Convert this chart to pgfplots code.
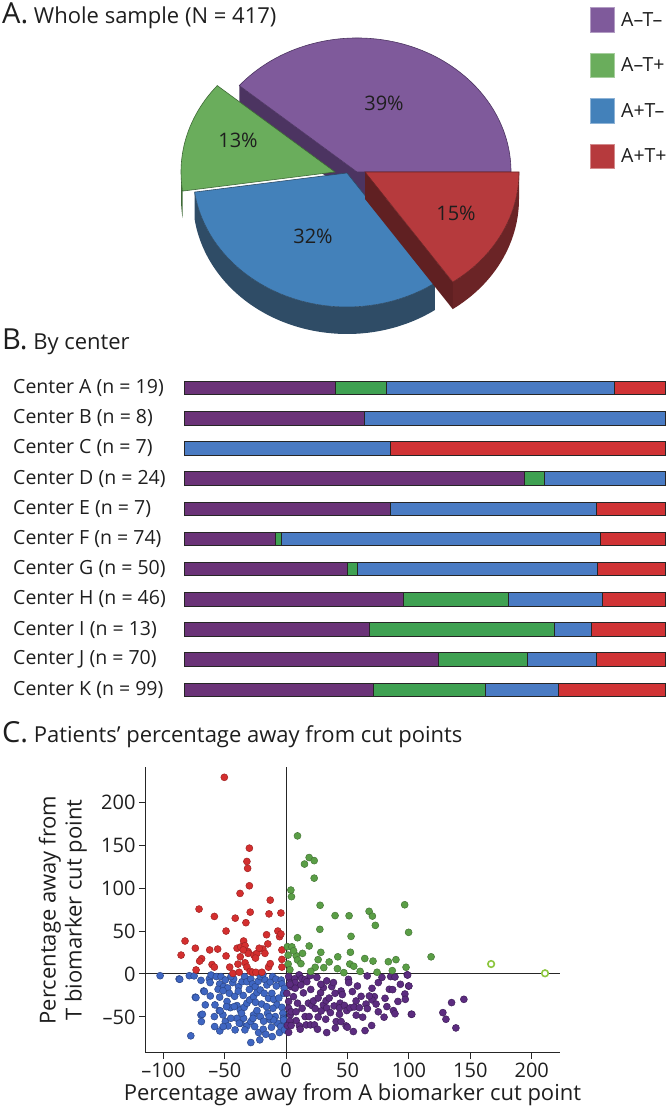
\documentclass[border=0pt]{standalone}
\usepackage{pgfplots}
\pgfplotsset{compat=1.18}
\usepackage{pgfplotstable}
\usepackage{fontspec}
\setmainfont{Open Sans}

\definecolor{pieP}{HTML}{7F5A9B}
\definecolor{piePd}{HTML}{4C3461}
\definecolor{pieG}{HTML}{6AAD5C}
\definecolor{pieGd}{HTML}{3F6A37}
\definecolor{pieB}{HTML}{4381BA}
\definecolor{pieBd}{HTML}{2F4C66}
\definecolor{pieR}{HTML}{B63A3D}
\definecolor{pieRd}{HTML}{6B2426}
\definecolor{barP}{HTML}{6B3378}
\definecolor{barG}{HTML}{3FA152}
\definecolor{barB}{HTML}{4A7BC3}
\definecolor{barR}{HTML}{D03335}
\definecolor{ptR}{HTML}{D42F2F}
\definecolor{ptG}{HTML}{5A9E46}
\definecolor{ptB}{HTML}{3F66C2}
\definecolor{ptP}{HTML}{5C2C80}
\definecolor{ptL}{HTML}{8DC63F}
\definecolor{txt}{HTML}{1E1E1E}

% counts per group (whole sample)
\def\nP{162}\def\nG{56}\def\nB{135}\def\nR{64}

% percent of each center's patients in A-T-, A-T+, A+T-, A+T+ (row 10 = Center A ... row 0 = Center K)
\pgfplotstableread{
row pp pg pb pr
10 31.579 10.526 47.368 10.526
9 37.5 0 62.5 0
8 0 0 42.857 57.143
7 70.833 4.167 25 0
6 42.857 0 42.857 14.286
5 18.919 1.351 66.216 13.514
4 34 2 50 14
3 45.652 21.739 19.565 13.043
2 38.462 38.462 7.692 15.385
1 52.857 18.571 14.286 14.286
0 39.394 23.232 15.152 22.222
}\bartab

\pgfplotstableread{
x y
-50.4 229
-30 146.5
-32 131
-31.4 123
-30 102.7
-37.6 93.8
-13 86
-71 75.6
-29.3 72
-58.5 67
-14 70
-4.3 71
-41.5 65
-32.8 59.7
-49 50
-6.8 50
-16 45.7
-5.4 43.4
-4.3 46.5
-82.4 38.4
-34.7 38.4
-74 30
-62.3 28
-55.8 29
-40 30
-37 31.4
-33.5 33
-31 26
-19 29
-15 35
-3.5 28
-85.6 22
-68.9 17.8
-70.5 15
-49 21
-37.4 20
-31 24
-26.3 22
-23.8 24
-25 18.5
-3.5 17
-60.4 11
-58.5 8
-39.3 11.5
-33.5 13
-32 8
-14.4 8
-73.4 4.7
-43.4 0.7
-38.3 2
-29.3 3
-27.4 2
-24.7 2
-19.8 2
-3.5 8
-13 12
-17.3 24
-22 30
-35 28
-46 8
}\redtab

\pgfplotstableread{
x y
9.2 160.8
18.7 135.6
22.8 132
14.9 128
22.8 111.6
3.8 97.7
4.3 90
27.6 80
96.5 80.6
39.8 68
51.2 67.8
67.5 73
70.2 67.4
72.6 56.6
27.4 52
99.7 48.5
52.8 43.8
9.2 42.2
1 31.8
4.6 31.6
18.7 32.6
13.3 24
28.2 25.2
52.3 25.3
1.6 22
8.1 21.3
9.2 16.3
26 16.7
42 20
1.6 11.6
23.6 7.8
30.6 7.4
41.7 6.2
51.8 11.6
70.7 15
83.2 14.3
89.4 16.7
118 20
97.6 7.8
46.9 1.6
60.2 3
74 2
86.4 3.9
3 5
12 12
6 27
35 14
20 3
55 9
64 18
}\greentab

\pgfplotstableread{
x y
166.9 11.6
210.8 0.8
}\lighttab

\pgfplotstableread{
x y
10.6 -1
19.5 -2
2.7 -5
6.8 -5.6
12.7 -5.4
15.4 -6.6
7.3 -10
16.8 -9
4 -14.7
11.9 -12.8
7.3 -16.6
30.3 -15.9
37.1 -14.7
44.7 -19.8
50.7 -6.2
50.9 -10
66 -2.3
85.1 -3
88.6 -3.5
98.6 -1
99.7 -14
53.9 -20.5
28.2 -12
38.5 -10
39.8 -22.5
45.7 -24
69.9 -16.7
71.8 -26.4
80.5 -28.3
84 -17.8
86.7 -18.2
96.7 -23.3
97 -29.5
0.5 -22.5
5.9 -26.4
9.2 -34
18.1 -34
20.9 -36.6
22.2 -31.4
23.6 -40.3
28.5 -43
30.3 -36
33 -39.5
32.5 -31
39 -37.2
43.9 -34
43.4 -39.5
47.4 -36.6
49.3 -42.6
52 -39.5
55.3 -38.4
65 -35
66.1 -40.3
62.3 -50.3
69.9 -30.2
73.2 -35
79.7 -50.3
87.3 -42.6
88.6 -46.3
101.9 -46.9
127.6 -45
130.1 -52.7
134.7 -33.3
144.7 -29.5
138.2 -62.8
3.3 -47.7
8.1 -54.3
10.8 -60.5
15.4 -49.6
18.7 -49.6
16.3 -59.3
19.8 -59.3
23 -59.3
25.5 -64.3
11.4 -64.3
32.2 -52.7
33 -68.2
40.7 -55.4
44.7 -55.4
43.4 -46.9
48.8 -60.5
54.7 -67
49.8 -62
69.6 -60
64.2 -65.9
59.6 -39.2
56.9 -31.4
67.7 -25.6
2 -3
3 -12
2 -32
2 -40
4 -44
3 -55
1 -60
4 -60
2 -68
98.9 -1.2
99.9 -14
102.3 -46.9
25 -4
28 -22
33 -8
35 -28
58 -14
61 -26
75 -10
78 -4
91 -32
93 -12
14 -22
20 -18
26 -28
8 -44
13 -40
26 -50
36 -45
57 -48
75 -44
82 -38
40 -63
}\purpletab

\pgfplotstableread{
x y
-102.7 -2
-87.2 -5.8
-78.9 -2
-75 -2.2
-69.4 -7.4
-62.6 -5.8
-61.2 -1.2
-56.9 -3
-53.1 -3
-49.6 -7
-54.2 -11.6
-51 -14.7
-47.7 -16.3
-55.5 -17.8
-51.5 -19.5
-46.3 -22.5
-43.6 -10
-42.8 -5.8
-38.8 -14.7
-36 -9
-33.9 -3
-32 -9
-28.8 -5.8
-27.4 -11.6
-25.2 -14.7
-22.8 -8.5
-21.1 -3
-19 -0.5
-17.1 -7
-15.7 -12.8
-13 -9.3
-11.1 -3
-8.4 -6
-4.1 -7
-3.5 -11.6
-1.6 -16.7
-2.2 -22.5
-67.2 -19.8
-74 -27
-61.8 -25.6
-54.2 -27
-48.2 -32
-45.5 -39.2
-40.1 -36.8
-37.4 -41.9
-34.2 -38.8
-32 -34.1
-29.8 -30.2
-26.6 -26.4
-23.8 -21.7
-21.1 -18.6
-17.9 -22.5
-14.4 -28.3
-11.7 -22.5
-10.3 -29.5
-7.6 -36
-3.5 -38.8
-2.7 -45.7
-2.4 -51.6
-2.2 -57.4
-69.4 -47.7
-69.1 -55.4
-58.5 -49.6
-54.5 -42.6
-51.5 -47.7
-49.6 -55.4
-47.4 -60.5
-40.1 -51.6
-37 -57.4
-34.7 -51.6
-32 -60.5
-28.8 -55.4
-26.6 -47.7
-23.8 -42.6
-21.1 -49.6
-18.4 -55
-15.2 -45.7
-13 -53.5
-10.8 -40
-8.9 -49.6
-7 -57.4
-77.7 -72
-68.3 -46.9
-58.3 -61.2
-54.1 -66.3
-51.3 -61.2
-53.8 -43
-41.6 -65.1
-45.1 -51.6
-33.6 -65.1
-28.8 -79.8
-25.7 -61.2
-21.5 -76.7
-22.5 -68.2
-18.7 -64.3
-16.6 -70.2
-11.4 -72.9
-5.5 -68.2
-4.5 -61.2
-2.1 -53.5
-1.4 -65.1
-10.4 -53.5
-13.9 -49.6
-27 -51.6
-36.4 -45.7
-38.2 -57.4
-42.3 -38
-48.6 -38
-65.9 -36
-66.6 -20.5
-73.5 -27.5
-86.7 -6.2
-30 -18
-35 -25
-42 -26
-20 -35
-8 -14
-6 -28
-16 -38
-25 -33
-39 -20
-58 -36
-62 -10
-45 -3
-12 -62
}\bluetab

\begin{document}
\begin{tikzpicture}
\useasboundingbox (0pt,0pt) rectangle (668pt,1119pt);

% ---- bars by center ----
\begin{axis}[at={(184pt,414pt)}, anchor=south west, scale only axis, width=481pt, height=332pt,
  xbar stacked, bar width=13.5pt, xmin=0, xmax=100, ymin=-0.5, ymax=10.5,
  hide x axis, axis y line*=left, y axis line style={draw=none}, ytick style={draw=none},
  ytick={0,1,2,3,4,5,6,7,8,9,10},
  yticklabels={{Center K (n = 99)},{Center J (n = 70)},{Center I (n = 13)},{Center H (n = 46)},{Center G (n = 50)},{Center F (n = 74)},{Center E (n = 7)},{Center D (n = 24)},{Center C (n = 7)},{Center B (n = 8)},{Center A (n = 19)}},
  yticklabel style={font=\fontsize{19.5}{22}\selectfont, text=txt, anchor=west, inner sep=0pt, xshift=-171pt},
  clip=false]
\addplot[fill=barP, draw=black!85, line width=1pt] table[x=pp, y=row] {\bartab};
\addplot[fill=barG, draw=black!85, line width=1pt] table[x=pg, y=row] {\bartab};
\addplot[fill=barB, draw=black!85, line width=1pt] table[x=pb, y=row] {\bartab};
\addplot[fill=barR, draw=black!85, line width=1pt] table[x=pr, y=row] {\bartab};
\end{axis}

% ---- pie geometry from counts ----
\pgfmathsetmacro\pieTot{\nP+\nG+\nB+\nR}
\pgfmathsetmacro\pieAP{\nP/\pieTot*360}
\pgfmathsetmacro\pieAG{\pieAP+\nG/\pieTot*360}
\pgfmathsetmacro\pieAB{\pieAG+\nB/\pieTot*360}
\pgfmathsetmacro\pPX{357+154*cos(\pieAP)}\pgfmathsetmacro\pPY{947+134*sin(\pieAP)}
\pgfmathsetmacro\pGX{335+154*cos(\pieAP)}\pgfmathsetmacro\pGY{947+134*sin(\pieAP)}
\pgfmathsetmacro\pBX{347+154*cos(\pieAG)}\pgfmathsetmacro\pBY{946+134*sin(\pieAG)}
\pgfmathsetmacro\pRX{365+154*cos(\pieAB)}\pgfmathsetmacro\pRY{947+134*sin(\pieAB)}

\begin{axis}[at={(0pt,0pt)}, anchor=south west, x=1pt, y=1pt, xmin=0, xmax=668, ymin=0, ymax=1119,
  hide axis, clip=false, disabledatascaling]
% purple
\fill[piePd] (axis cs:357,947) -- (axis cs:511,947) -- (axis cs:511,920) -- (axis cs:357,920) -- cycle;
\fill[piePd] (axis cs:357,947) -- (axis cs:\pPX,\pPY) -- ++(0pt,-27pt) -- (axis cs:357,920) -- cycle;
\filldraw[fill=pieP, draw=piePd, line width=0.6pt] (axis cs:357,947) -- (axis cs:511,947)
  arc[start angle=0, end angle=\pieAP, x radius=154pt, y radius=134pt] -- cycle;
% green
\fill[pieGd] (axis cs:181,947) arc[start angle=180, end angle=\pieAG, x radius=154pt, y radius=134pt]
  -- ++(0pt,-27pt) arc[start angle=\pieAG, end angle=180, x radius=154pt, y radius=134pt] -- cycle;
\filldraw[fill=pieG, draw=pieGd, line width=0.6pt] (axis cs:335,947) -- (axis cs:\pGX,\pGY)
  arc[start angle=\pieAP, end angle=\pieAG, x radius=154pt, y radius=134pt] -- cycle;
% blue
\fill[pieBd] (axis cs:\pBX,\pBY) arc[start angle=\pieAG, end angle=\pieAB, x radius=154pt, y radius=134pt]
  -- ++(0pt,-27pt) arc[start angle=\pieAB, end angle=\pieAG, x radius=154pt, y radius=134pt] -- cycle;
\filldraw[fill=pieB, draw=pieBd, line width=0.6pt] (axis cs:347,946) -- (axis cs:\pBX,\pBY)
  arc[start angle=\pieAG, end angle=\pieAB, x radius=154pt, y radius=134pt] -- cycle;
% red
\fill[pieRd!90!black] (axis cs:365,947) -- (axis cs:\pRX,\pRY) -- ++(0pt,-27pt) -- (axis cs:365,920) -- cycle;
\fill[pieRd] (axis cs:\pRX,\pRY) arc[start angle=\pieAB, end angle=360, x radius=154pt, y radius=134pt]
  -- ++(0pt,-27pt) arc[start angle=360, end angle=\pieAB, x radius=154pt, y radius=134pt] -- cycle;
\filldraw[fill=pieR, draw=pieRd, line width=0.6pt] (axis cs:365,947) -- (axis cs:\pRX,\pRY)
  arc[start angle=\pieAB, end angle=360, x radius=154pt, y radius=134pt] -- cycle;
\end{axis}

% pie labels
\begin{scope}[every node/.style={font=\fontsize{20}{22}\selectfont, text=txt, inner sep=0pt}]
\node at (384pt,1016pt) {39\%};
\node at (238pt,979pt) {13\%};
\node at (313pt,883pt) {32\%};
\node at (456pt,906pt) {15\%};
\end{scope}

% titles
\node[anchor=base west, inner sep=0pt, text=txt] at (2pt,1095pt)
  {{\fontsize{29}{30}\selectfont A.}\fontsize{22}{24}\selectfont{} Whole sample (N = 417)};
\node[anchor=base west, inner sep=0pt, text=txt] at (2pt,769pt)
  {{\fontsize{29}{30}\selectfont B.}\fontsize{22}{24}\selectfont{} By center};
\node[anchor=base west, inner sep=0pt, text=txt] at (2pt,376pt)
  {{\fontsize{29}{30}\selectfont C.}\fontsize{22}{24}\selectfont{} Patients’ percentage away from cut points};

% legend
\begin{scope}[every node/.style={font=\fontsize{19.5}{22}\selectfont, text=txt, inner sep=0pt, anchor=west}]
\filldraw[fill=pieP, draw=pieP!60!white, line width=0.8pt] (590pt,1087pt) rectangle (614pt,1112pt);
\node at (621pt,1099.5pt) {A–T–};
\filldraw[fill=pieG, draw=pieG!60!white, line width=0.8pt] (590pt,1042pt) rectangle (614pt,1066pt);
\node at (621pt,1054pt) {A–T+};
\filldraw[fill=pieB, draw=pieB!60!white, line width=0.8pt] (590pt,996pt) rectangle (614pt,1021pt);
\node at (621pt,1008.5pt) {A+T–};
\filldraw[fill=pieR, draw=pieR!60!white, line width=0.8pt] (590pt,951pt) rectangle (614pt,975pt);
\node at (621pt,963pt) {A+T+};
\end{scope}

% ---- scatter ----
\begin{axis}[at={(145pt,66pt)}, anchor=south west, scale only axis, width=415pt, height=286pt,
  xmin=-115, xmax=223, ymin=-92, ymax=241,
  axis x line=bottom, axis y line=left, axis line style={-, line width=1pt, black!85},
  xtick={-100,-50,0,50,100,150,200}, xticklabels={–100,–50,0,50,100,150,200},
  ytick={-50,0,50,100,150,200}, yticklabels={–50,0,50,100,150,200},
  tick align=outside, major tick length=6pt, tick style={black!85, line width=1pt},
  ticklabel style={font=\fontsize{20}{22}\selectfont, text=txt},
  xlabel={Percentage away from A biomarker cut point},
  ylabel={Percentage away from\\T biomarker cut point},
  xlabel style={font=\fontsize{22}{26}\selectfont, text=txt},
  every axis y label/.style={at={(axis description cs:-0.198,0.5)}, rotate=90, anchor=center, align=center, font=\fontsize{22}{26}\selectfont, text=txt},
  clip=false]
\addplot[black!85, line width=1pt] coordinates {(0,-92) (0,241)};
\addplot[black!85, line width=1pt] coordinates {(-115,0) (223,0)};
\addplot[only marks, mark=*, mark size=3.5pt, mark options={fill=ptB, draw=ptB!70!black, line width=0.5pt}] table {\bluetab};
\addplot[only marks, mark=*, mark size=3.5pt, mark options={fill=ptP, draw=ptP!70!black, line width=0.5pt}] table {\purpletab};
\addplot[only marks, mark=*, mark size=3.5pt, mark options={fill=ptR, draw=ptR!75!black, line width=0.5pt}] table {\redtab};
\addplot[only marks, mark=*, mark size=3.5pt, mark options={fill=ptG, draw=ptG!75!black, line width=0.5pt}] table {\greentab};
\addplot[only marks, mark=*, mark size=3.3pt, mark options={fill=white, draw=ptL, line width=1.6pt}] table {\lighttab};
\end{axis}
\end{tikzpicture}
\end{document}
